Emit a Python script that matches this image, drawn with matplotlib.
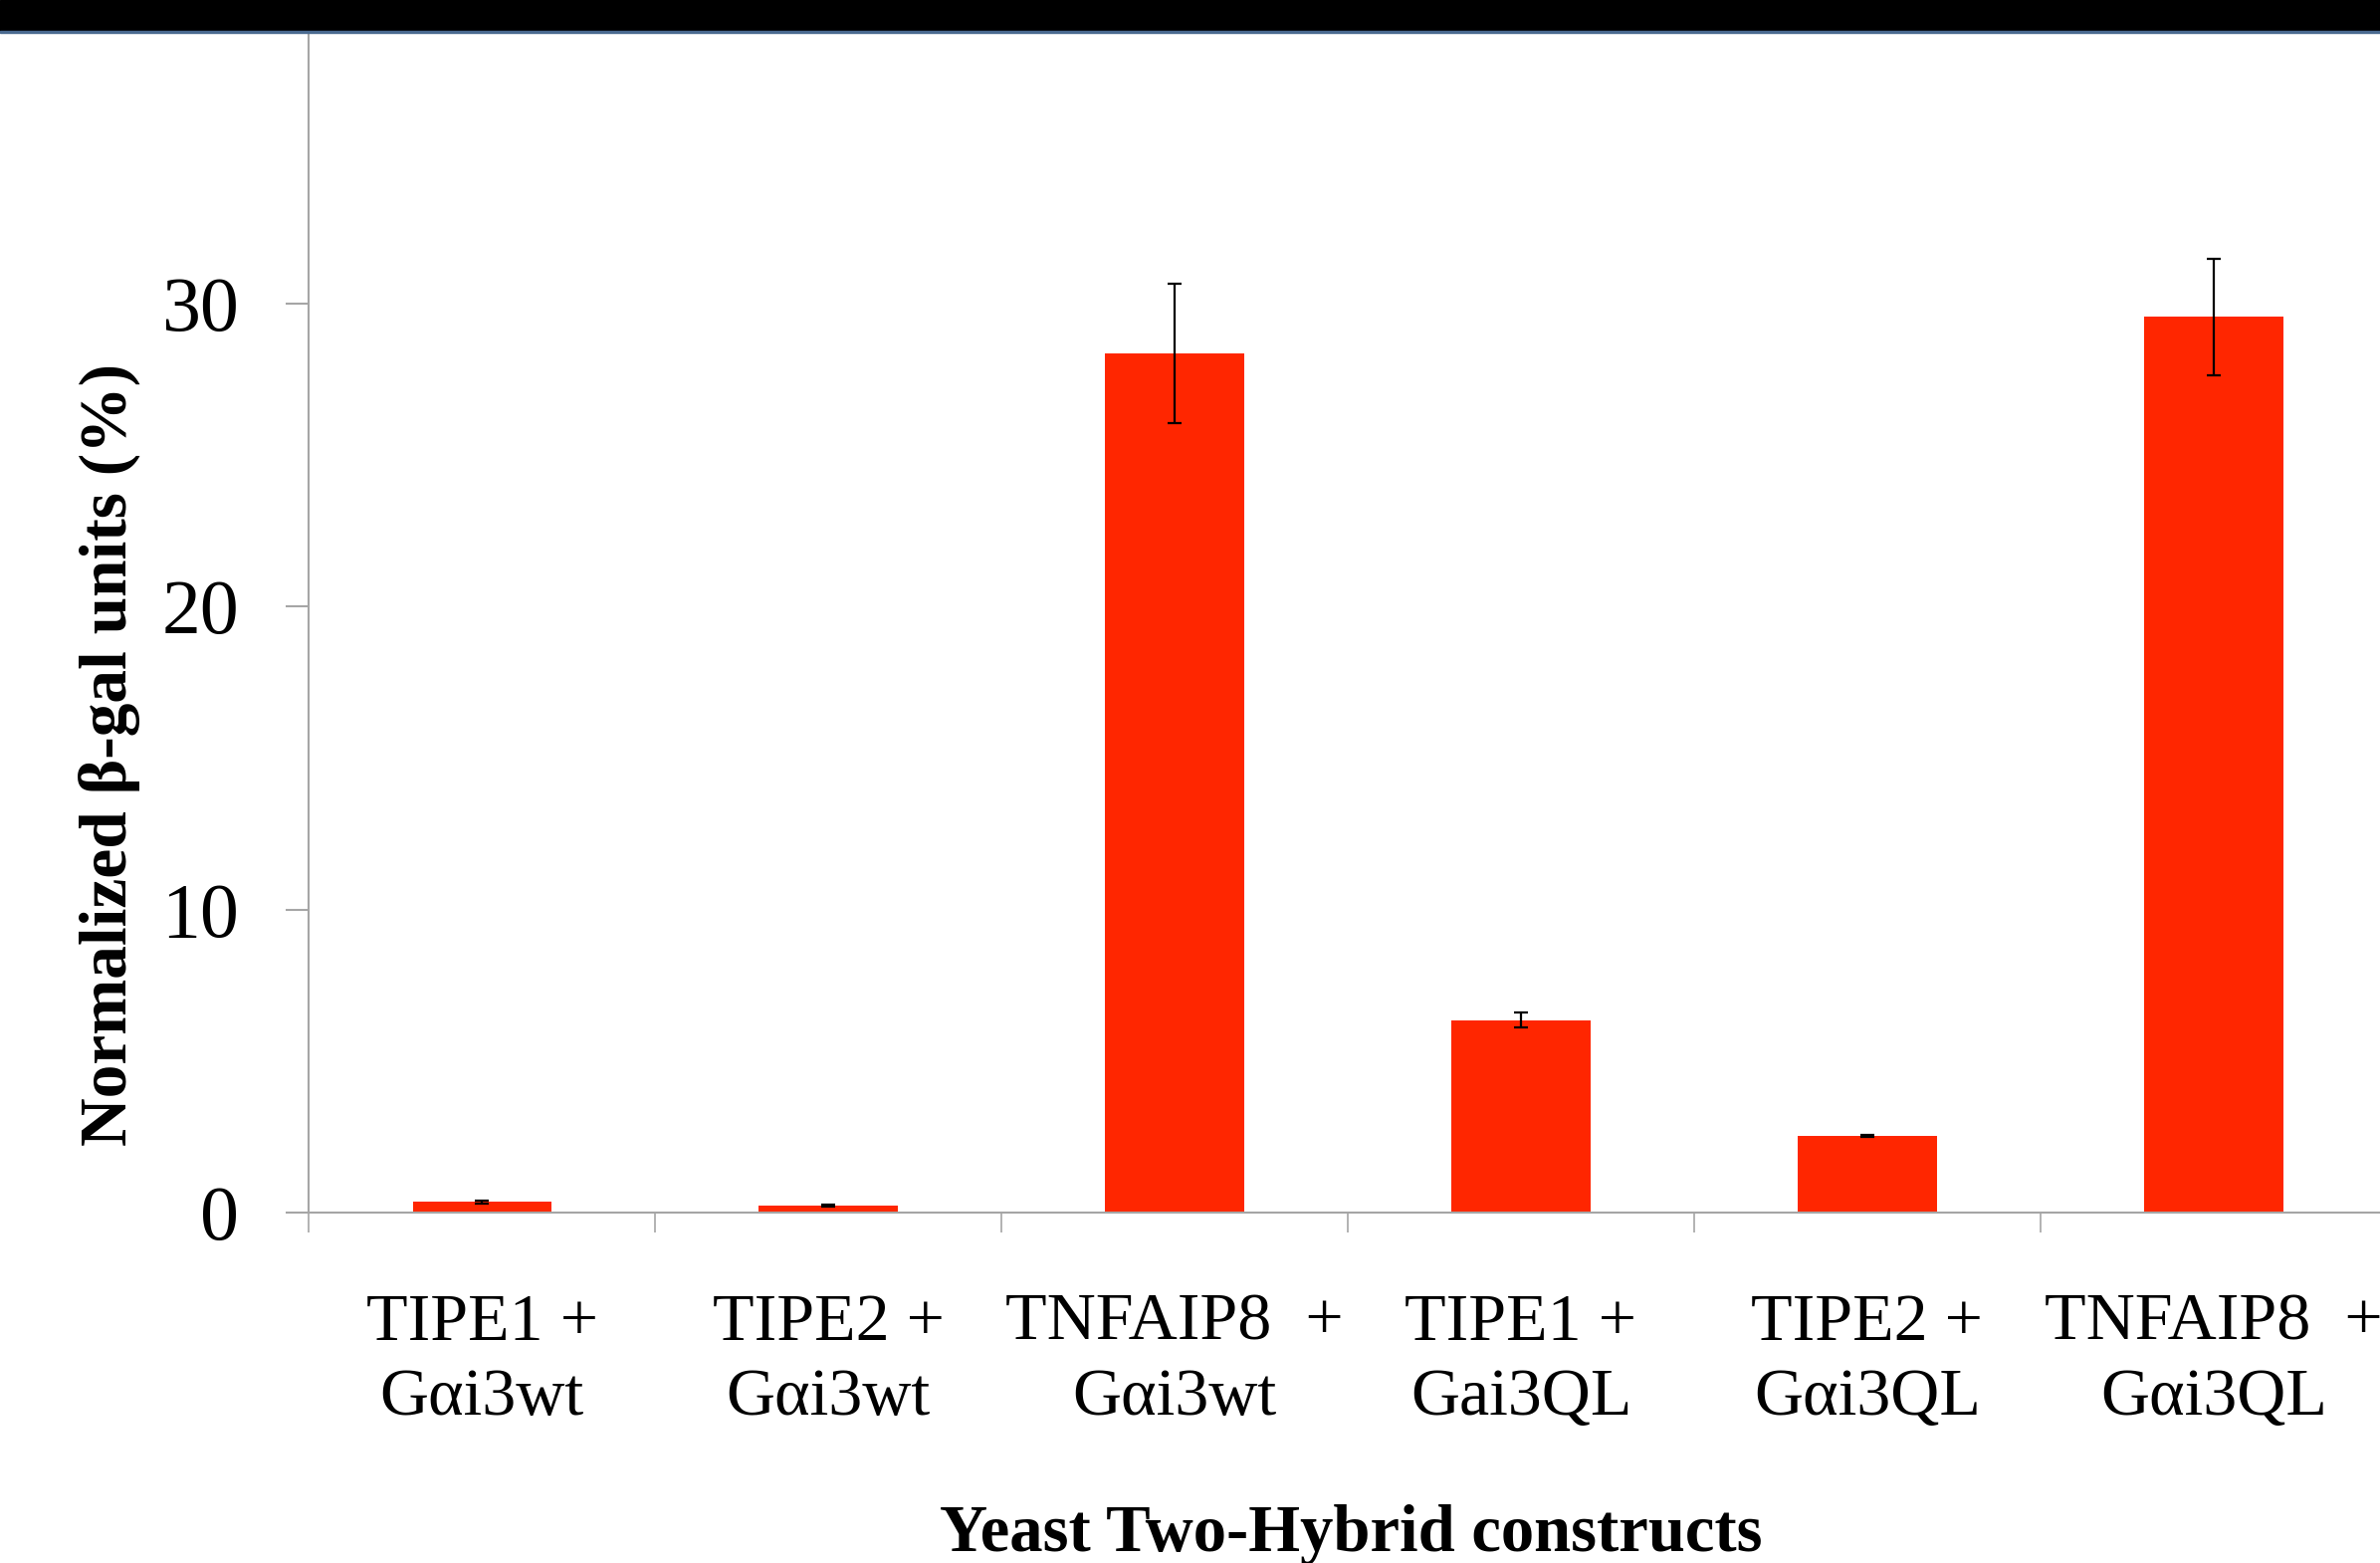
import numpy as np
import matplotlib
matplotlib.use("Agg")
import matplotlib.pyplot as plt
from matplotlib.patches import Rectangle
from matplotlib.ticker import FixedLocator, NullFormatter

# Данные
categories = [
    "TIPE1 +\nGαi3wt",
    "TIPE2 +\nGαi3wt",
    "TNFAIP8  +\nGαi3wt",
    "TIPE1 +\nGai3QL",
    "TIPE2 +\nGαi3QL",
    "TNFAIP8  +\nGαi3QL",
]
values = [0.35, 0.23, 28.35, 6.35, 2.52, 29.55]
errors = [0.05, 0.03, 2.3, 0.25, 0.03, 1.92]
yticks = [0, 10, 20, 30, 40]

plt.rcParams['font.family'] = ['Liberation Serif', 'DejaVu Serif']

fig = plt.figure(figsize=(23.91, 15.70), dpi=100)
ax = fig.add_axes([0.1297, 0.2242, 1 - 0.1297, 1 - 0.2242])

x = np.arange(len(categories))
grey = '#a6a6a6'
ax.bar(x, values, width=0.4, color='#ff2600', zorder=2)
ax.errorbar(x, values, yerr=errors, fmt='none', ecolor='black',
            elinewidth=1.6, capsize=5, capthick=1.6, zorder=3)

ax.set_xlim(-0.5, 5.48)
ax.set_ylim(0, 40)
ax.set_yticks(yticks)
ax.set_xticks(x)
ax.set_xticklabels(categories, fontsize=49, linespacing=1.3)
ax.xaxis.set_minor_locator(FixedLocator(np.arange(-0.5, 5.5, 1.0)))
ax.xaxis.set_minor_formatter(NullFormatter())
ax.tick_params(axis='x', which='major', length=0, pad=58)
ax.tick_params(axis='x', which='minor', length=14.5, width=1.2,
               color=grey, direction='out')
ax.tick_params(axis='y', length=16.5, width=1.5, color=grey,
               direction='out', labelsize=56, pad=34)

for side in ['top', 'right']:
    ax.spines[side].set_visible(False)
for side in ['left', 'bottom']:
    ax.spines[side].set_color(grey)
    ax.spines[side].set_linewidth(1.5)

# Подписи осей
fig.text(0.046, 0.517, "Normalized β-gal units (%)", rotation=90,
         ha='center', va='center', fontsize=48.5, fontweight='bold')
fig.text(0.5676, 1 - 1558 / 1570, "Yeast Two-Hybrid constructs",
         ha='center', va='baseline', fontsize=48, fontweight='bold')

# Черная полоса сверху
fig.patches.append(Rectangle((0, 1 - 31 / 1570), 1, 31 / 1570,
                             transform=fig.transFigure, color='black',
                             zorder=10))
fig.patches.append(Rectangle((0, 1 - 32.5 / 1570), 1, 1.5 / 1570,
                             transform=fig.transFigure, color='#4a6a90',
                             zorder=10))

fig.savefig("out.png", dpi=100)
